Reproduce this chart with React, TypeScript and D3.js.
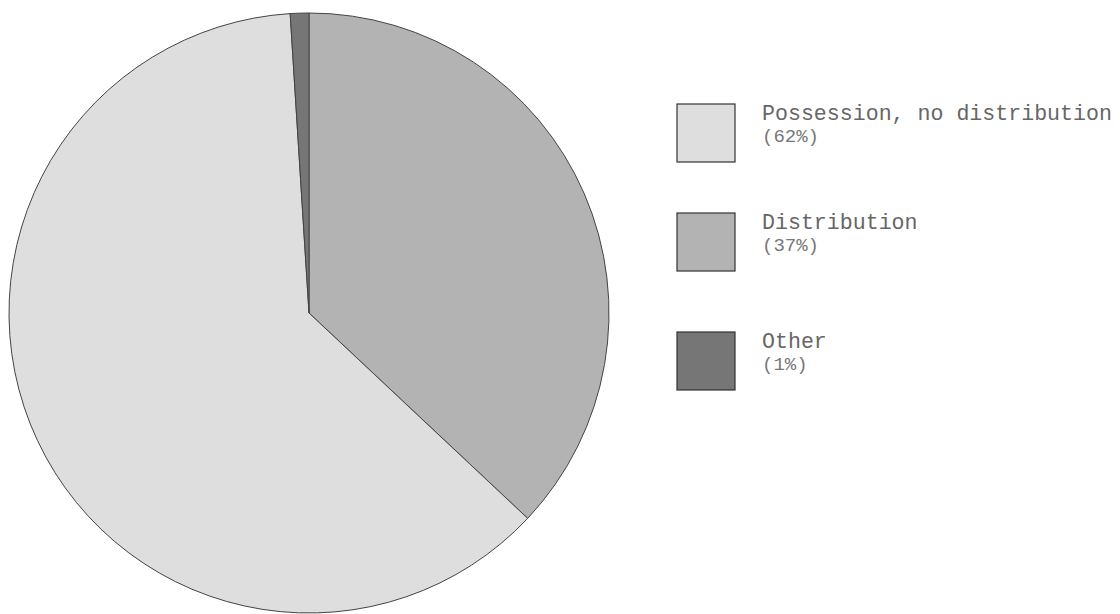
import React from "react";
import * as d3 from "d3";

const categories = ["Possession, no distribution", "Distribution", "Other"];
const values = [62, 37, 1];
const percentLabels = ["(62%)", "(37%)", "(1%)"];
const colors = ["#dedede", "#b3b3b3", "#767676"];

// pie drawing order (clockwise from top)
const pieOrder = [1, 0, 2];

export default function App() {
  const width = 1120;
  const height = 614;
  const cx = 309;
  const cy = 313;
  const r = 300;

  const pie = d3
    .pie<number>()
    .sort(null)
    .value((i) => values[i]);
  const arcs = pie(pieOrder);
  const arc = d3.arc<d3.PieArcDatum<number>>().innerRadius(0).outerRadius(r);

  const legendX = 677;
  const legendTops = [104, 213, 332];
  const box = 58;
  const font = "'Liberation Mono', 'DejaVu Sans Mono', monospace";

  return (
    <svg
      width={width}
      height={height}
      style={{ position: "absolute", left: 0, top: 0, background: "#fff" }}
    >
      <g transform={`translate(${cx},${cy})`}>
        {arcs.map((a) => (
          <path
            key={a.data}
            d={arc(a) || ""}
            fill={colors[a.data]}
            stroke="#444"
            strokeWidth={1}
          />
        ))}
      </g>
      {categories.map((c, i) => {
        const y = legendTops[i];
        return (
          <g key={c}>
            <rect
              x={legendX}
              y={y}
              width={box}
              height={box}
              fill={colors[i]}
              stroke="#333"
              strokeWidth={1.2}
            />
            <text x={legendX + 85} y={y + 16} fontFamily={font} fontSize={21.6} fill="#666">
              {c}
            </text>
            <text x={legendX + 85} y={y + 38} fontFamily={font} fontSize={19} fill="#777">
              {percentLabels[i]}
            </text>
          </g>
        );
      })}
    </svg>
  );
}
